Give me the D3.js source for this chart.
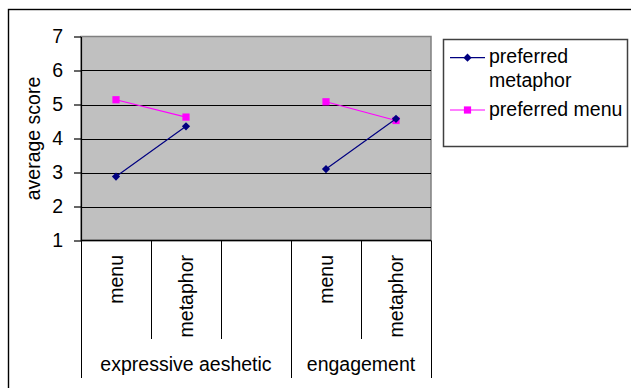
<!DOCTYPE html>
<html>
<head>
<meta charset="utf-8">
<script src="https://cdn.jsdelivr.net/npm/d3@7"></script>
<style>
  html, body { margin: 0; padding: 0; background: #fff; overflow: hidden; }
  svg { display: block; }
  text { font-family: "Liberation Sans", Arial, sans-serif; fill: #000; }
</style>
</head>
<body>
<svg id="chart" width="631" height="388"></svg>
<script>
// Categories along the x axis (blank slot separates the two groups)
const categories = ["menu", "metaphor", "", "menu", "metaphor"];
const groupNames = ["expressive aeshetic", "engagement"];
const groupSpans = [3, 2];

// Average scores per series (null = gap)
const preferredMetaphor = [2.88, 4.36, null, 3.10, 4.58];
const preferredMenu     = [5.14, 4.63, null, 5.08, 4.53];

const yTicks = [1, 2, 3, 4, 5, 6, 7];
const yLabel = "average score";

const seriesNames = [["preferred", "metaphor"], ["preferred menu"]];

const FS = 19.5;
const svg = d3.select("#chart");

const plot = { left: 81, right: 431, top: 36.5, bottom: 240.5 };

const x = d3.scaleBand()
  .domain(d3.range(categories.length))
  .range([plot.left, plot.right])
  .paddingInner(0).paddingOuter(0);

const y = d3.scaleLinear()
  .domain([d3.min(yTicks), d3.max(yTicks)])
  .range([plot.bottom, plot.top]);

// Outer chart frame (extends past the right and bottom edges)
svg.append("rect")
  .attr("x", 8.5).attr("y", 9.5)
  .attr("width", 700).attr("height", 500)
  .attr("fill", "none").attr("stroke", "#000").attr("stroke-width", 1.4);

// Plot area
svg.append("rect")
  .attr("x", plot.left).attr("y", plot.top)
  .attr("width", plot.right - plot.left).attr("height", plot.bottom - plot.top)
  .attr("fill", "#c0c0c0").attr("stroke", "#808080").attr("stroke-width", 1.5);

// Horizontal gridlines
svg.append("g")
  .selectAll("line")
  .data(yTicks.slice(1, -1))
  .join("line")
  .attr("x1", plot.left).attr("x2", plot.right)
  .attr("y1", d => Math.round(y(d)) + 0.5).attr("y2", d => Math.round(y(d)) + 0.5)
  .attr("stroke", "#000").attr("stroke-width", 1);

// Y axis
const yAxis = svg.append("g")
  .attr("transform", `translate(${plot.left},0)`)
  .call(d3.axisLeft(y).tickValues(yTicks).tickFormat(d3.format("d"))
    .tickSize(7).tickPadding(11).tickSizeOuter(0));
yAxis.select(".domain").attr("stroke", "#000").attr("stroke-width", 1.2);
yAxis.selectAll(".tick line").attr("stroke", "#000").attr("stroke-width", 1.2);
yAxis.selectAll(".tick text")
  .attr("font-size", FS).attr("font-family", "Liberation Sans, Arial, sans-serif")
  .attr("fill", "#000");

// Y axis title
svg.append("text")
  .attr("transform", `translate(40,${(plot.top + plot.bottom) / 2}) rotate(-90)`)
  .attr("text-anchor", "middle")
  .attr("font-size", FS)
  .text(yLabel);

// Bottom axis line
svg.append("line")
  .attr("x1", plot.left).attr("x2", plot.right)
  .attr("y1", plot.bottom).attr("y2", plot.bottom)
  .attr("stroke", "#000").attr("stroke-width", 1.4);

// Category boundaries: group edges run long, inner edges short
const groupStarts = [0];
groupSpans.forEach((s, i) => groupStarts.push(groupStarts[i] + s));
const boundaries = d3.range(categories.length + 1);
const bx = i => (i < categories.length ? x(i) : plot.right);

svg.append("g")
  .selectAll("line")
  .data(boundaries)
  .join("line")
  .attr("x1", i => Math.round(bx(i)) + 0.5).attr("x2", i => Math.round(bx(i)) + 0.5)
  .attr("y1", plot.bottom)
  .attr("y2", i => groupStarts.includes(i) ? 378 : 339)
  .attr("stroke", "#000").attr("stroke-width", 1);

// Category labels (rotated)
svg.append("g")
  .selectAll("text")
  .data(categories.map((c, i) => ({ c, i })).filter(d => d.c))
  .join("text")
  .attr("transform", d => `translate(${x(d.i) + x.bandwidth() / 2},255) rotate(-90)`)
  .attr("text-anchor", "end")
  .attr("dy", "0.35em")
  .attr("font-size", FS)
  .text(d => d.c);

// Group labels
svg.append("g")
  .selectAll("text")
  .data(groupNames.map((g, i) => ({ g, i })))
  .join("text")
  .attr("x", d => (bx(groupStarts[d.i]) + bx(groupStarts[d.i + 1])) / 2)
  .attr("y", 371)
  .attr("text-anchor", "middle")
  .attr("font-size", FS)
  .text(d => d.g);

// Series lines and markers
const line = d3.line()
  .defined(d => d != null)
  .x((d, i) => x(i) + x.bandwidth() / 2)
  .y(d => y(d));

const diamond = d3.symbol(d3.symbolSquare, 34)();
const square = d3.symbol(d3.symbolSquare, 52)();

const series = [
  { values: preferredMenu, color: "#ff00ff", path: square, rot: 0 },
  { values: preferredMetaphor, color: "#000080", path: diamond, rot: 45 }
];

series.forEach(s => {
  svg.append("path")
    .attr("d", line(s.values))
    .attr("fill", "none")
    .attr("stroke", s.color)
    .attr("stroke-width", 1.2);
  svg.append("g")
    .selectAll("path")
    .data(s.values.map((v, i) => ({ v, i })).filter(d => d.v != null))
    .join("path")
    .attr("d", s.path)
    .attr("transform", d => `translate(${x(d.i) + x.bandwidth() / 2},${y(d.v)}) rotate(${s.rot})`)
    .attr("fill", s.color);
});

// Legend
const lg = svg.append("g");
lg.append("rect")
  .attr("x", 443.5).attr("y", 39.5).attr("width", 184).attr("height", 107)
  .attr("fill", "#fff").attr("stroke", "#404040").attr("stroke-width", 1.5);

const legendItems = [
  { lines: seriesNames[0], color: "#000080", path: diamond, rot: 45, y: 57.7 },
  { lines: seriesNames[1], color: "#ff00ff", path: square, rot: 0, y: 110 }
];
legendItems.forEach(it => {
  lg.append("line")
    .attr("x1", 450).attr("x2", 485).attr("y1", it.y).attr("y2", it.y)
    .attr("stroke", it.color).attr("stroke-width", 1.2);
  lg.append("path")
    .attr("d", it.path)
    .attr("transform", `translate(467.5,${it.y}) rotate(${it.rot})`)
    .attr("fill", it.color);
  const t = lg.append("text")
    .attr("x", 489).attr("y", it.y + 5.5)
    .attr("font-size", FS);
  it.lines.forEach((l, k) => {
    t.append("tspan").attr("x", 489).attr("dy", k === 0 ? 0 : 23.3).text(l);
  });
});
</script>
</body>
</html>
